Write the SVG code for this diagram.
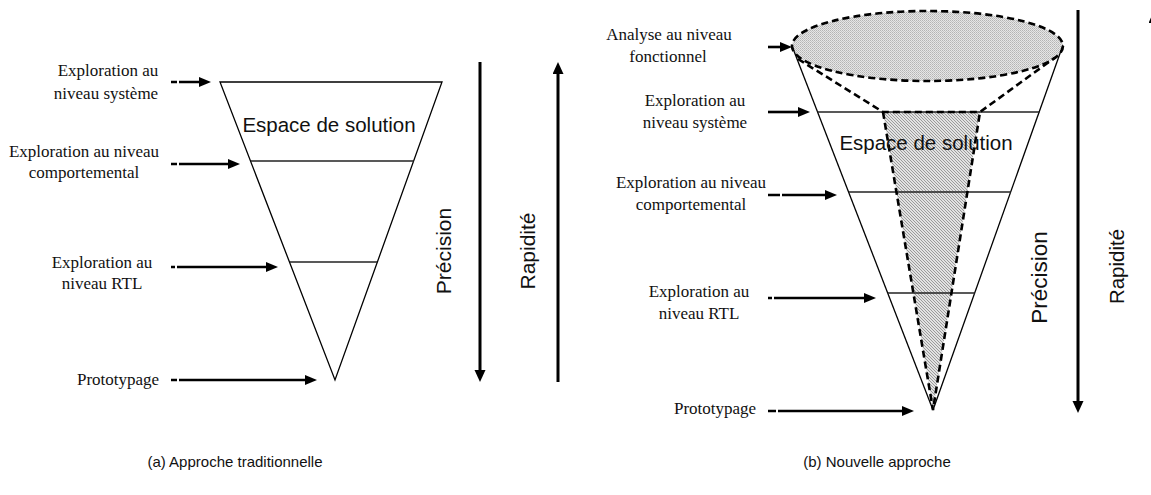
<svg xmlns="http://www.w3.org/2000/svg" width="1151" height="495" viewBox="0 0 1151 495">
  <style>
    .lbl { font-family: "Liberation Serif", "Times New Roman", serif; font-size: 17px; fill: #111; text-anchor: middle; }
    .big { font-family: "Liberation Sans", Arial, sans-serif; font-size: 20.5px; fill: #111; text-anchor: middle; }
    .cap { font-family: "Liberation Sans", Arial, sans-serif; font-size: 15px; fill: #111; text-anchor: middle; }
    .edge { fill: none; stroke: #000; stroke-width: 1.3; }
    .level { stroke: #222; stroke-width: 1.3; }
    .dash { fill: none; stroke: #000; stroke-width: 2.6; stroke-dasharray: 7 4; }
    .ptr { stroke: #000; stroke-width: 2.6; fill: none; marker-end: url(#head); }
    .axis { stroke: #000; stroke-width: 3; fill: none; marker-end: url(#bighead); }
  </style>
  <defs>
    <marker id="head" markerUnits="userSpaceOnUse" markerWidth="13" markerHeight="11" refX="1" refY="5" orient="auto">
      <path d="M0,0 L12,5 L0,10 Z" fill="#000"/>
    </marker>
    <marker id="bighead" markerUnits="userSpaceOnUse" markerWidth="13" markerHeight="12" refX="1" refY="5.5" orient="auto">
      <path d="M0,0 L12,5.5 L0,11 Z" fill="#000"/>
    </marker>
    <!-- fine dither for the functional-level disc -->
    <pattern id="dots" width="2" height="2" patternUnits="userSpaceOnUse">
      <rect width="2" height="2" fill="#e6e6e6"/>
      <rect width="1" height="1" fill="#b4b4b4"/>
      <rect x="1" y="1" width="1" height="1" fill="#c4c4c4"/>
    </pattern>
    <!-- diagonal hatching for the reduced solution space -->
    <pattern id="hatch" width="3" height="3" patternUnits="userSpaceOnUse">
      <rect width="3" height="3" fill="#e2e2e2"/>
      <path d="M-1,-1 L4,4 M-1,2 L1,4 M2,-1 L4,1" stroke="#9a9a9a" stroke-width="1"/>
    </pattern>
  </defs>

  <!-- (a) traditional approach -->
  <g id="cone-a">
    <polygon class="edge" points="220,82 442,82 335,380"/>
    <line class="level" x1="251" y1="161" x2="414" y2="161"/>
    <line class="level" x1="290" y1="262" x2="377" y2="262" stroke="#555"/>
    <text class="big" x="329" y="132">Espace de solution</text>
  </g>
  <g id="labels-a">
    <text class="lbl" x="108" y="76">Exploration au</text>
    <text class="lbl" x="106" y="99">niveau système</text>
    <text class="lbl" x="84" y="157">Exploration au niveau</text>
    <text class="lbl" x="84" y="178">comportemental</text>
    <text class="lbl" x="102" y="268">Exploration au</text>
    <text class="lbl" x="102" y="289">niveau RTL</text>
    <text class="lbl" x="118" y="385">Prototypage</text>
  </g>
  <g id="axes-a">
    <text class="big" transform="translate(451,251) rotate(-90)" x="0" y="0" style="font-size:21px">Précision</text>
    <text class="big" transform="translate(535,251) rotate(-90)" x="0" y="0" style="font-size:21px">Rapidité</text>
  </g>

  <!-- (b) new approach -->
  <g id="cone-b">
    <ellipse cx="927.5" cy="46" rx="135.5" ry="35" fill="url(#dots)"/>
    <polygon points="883,112 980,112 933,410" fill="url(#hatch)"/>
    <line class="edge" x1="792" y1="46" x2="933" y2="410"/>
    <line class="edge" x1="1063" y1="45" x2="933" y2="410"/>
    <line class="level" x1="817.6" y1="112" x2="1039.4" y2="112"/>
    <line class="level" x1="849" y1="192" x2="1011" y2="192"/>
    <line class="level" x1="888" y1="293" x2="975" y2="293"/>
    <ellipse class="dash" cx="927.5" cy="46" rx="135.5" ry="35"/>
    <polyline class="dash" points="798,59 883,112 980,112 1055,57.5"/>
    <polyline class="dash" points="883,112 933,410 980,112"/>
    <text class="big" x="926" y="150">Espace de solution</text>
  </g>
  <g id="labels-b">
    <text class="lbl" x="669" y="40">Analyse au niveau</text>
    <text class="lbl" x="668" y="62">fonctionnel</text>
    <text class="lbl" x="695" y="106">Exploration au</text>
    <text class="lbl" x="695" y="128">niveau système</text>
    <text class="lbl" x="691" y="188">Exploration au niveau</text>
    <text class="lbl" x="691" y="210">comportemental</text>
    <text class="lbl" x="699" y="297">Exploration au</text>
    <text class="lbl" x="699" y="319">niveau RTL</text>
    <text class="lbl" x="715" y="414">Prototypage</text>
  </g>
  <g id="axes-b">
    <text class="big" transform="translate(1047,277.5) rotate(-90)" x="0" y="0" style="font-size:22.5px">Précision</text>
    <text class="big" transform="translate(1123.5,266.5) rotate(-90)" x="0" y="0">Rapidité</text>
  </g>

  <!-- connectors -->
  <g id="connectors">
    <path class="ptr" d="M171,82 H200" stroke-dasharray="6 2 100"/>
    <path class="ptr" d="M171,164 H229" stroke-dasharray="6 2 100"/>
    <path class="ptr" d="M171,267 H267" stroke-dasharray="4 2 200"/>
    <path class="ptr" d="M171,380 H306" stroke-dasharray="6 2 200"/>
    <path class="axis" d="M480,62 V371"/>
    <path class="axis" d="M558,382 V73"/>

    <path class="ptr" d="M768,47 H781"/>
    <path class="ptr" d="M768,112 H799"/>
    <path class="ptr" d="M768,195 H826" stroke-dasharray="12 2 200"/>
    <path class="ptr" d="M768,298 H865" stroke-dasharray="4 2 200"/>
    <path class="ptr" d="M768,411 H903" stroke-dasharray="8 2 200"/>
    <path class="axis" d="M1078,10 V402"/>
    <path class="axis" d="M1154,413 V22"/>
  </g>

  <text class="cap" x="235" y="467">(a) Approche traditionnelle</text>
  <text class="cap" x="877" y="467">(b) Nouvelle approche</text>
</svg>
